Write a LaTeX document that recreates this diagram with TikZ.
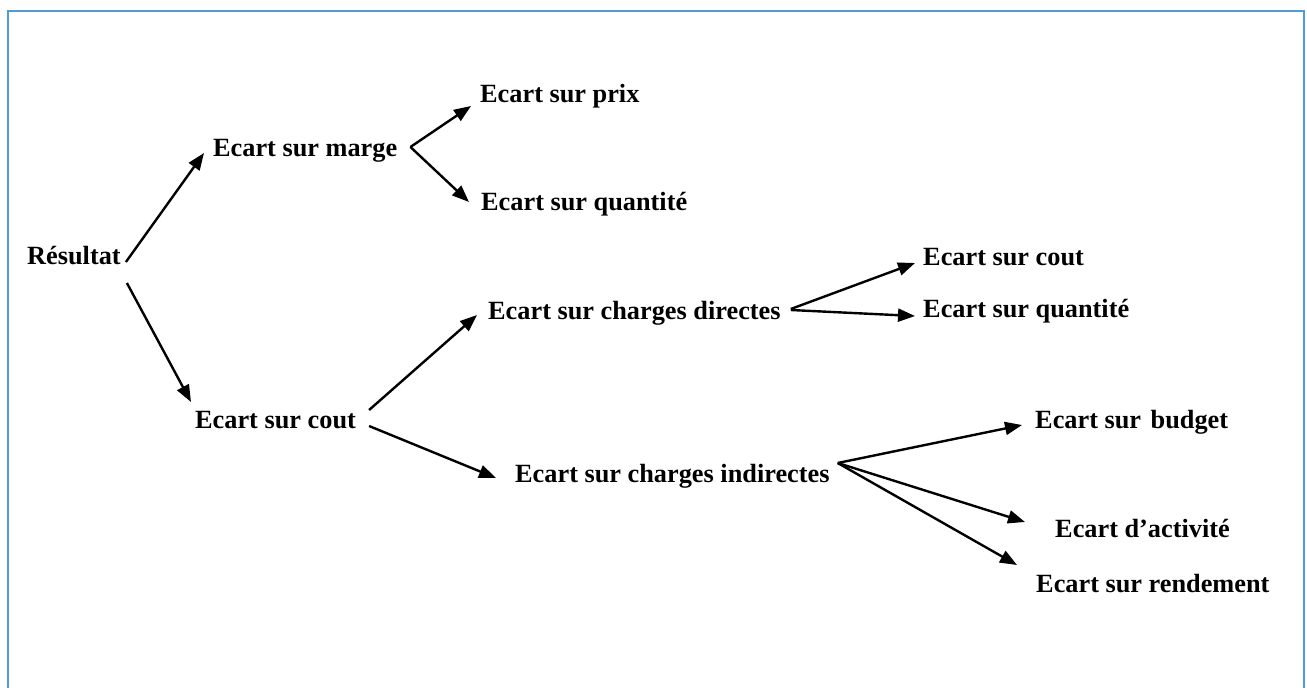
\documentclass[tikz,border=0pt]{standalone}
\usepackage{fontspec}
\setmainfont{Liberation Serif}
\usetikzlibrary{arrows.meta,calc}
\definecolor{framecol}{RGB}{79,155,223}
\begin{document}
\begin{tikzpicture}[x=1pt,y=-1pt,
  lbl/.style={anchor=base west,inner sep=0pt,font=\fontsize{26.3}{30}\selectfont\bfseries},
  arr/.style={line width=2.4pt,-{Triangle[length=17pt,width=13pt]}}]
\useasboundingbox (0,0) rectangle (1307,688);
\draw[framecol,line width=2pt] (7.5,700) -- (7.5,10.5) -- (1304,10.5) -- (1304,700);
% nodes
\node[lbl] (res) at (27,264) {Résultat};
\node[lbl] (marge) at (213,156) {Ecart sur marge};
\node[lbl] (prix) at (480,102) {Ecart sur prix};
\node[lbl] (quantA) at (481,210) {Ecart sur quantité};
\node[lbl] (coutL) at (195,428) {Ecart sur cout};
\node[lbl] (dir) at (488,319) {Ecart sur charges directes};
\node[lbl] (coutR) at (923,265) {Ecart sur cout};
\node[lbl] (quantB) at (923,317) {Ecart sur quantité};
\node[lbl] (ind) at (515,482) {Ecart sur charges indirectes};
\node[lbl] (budget) at (1035,428) {Ecart sur\hspace{3pt} budget};
\node[lbl] (activ) at (1055,537) {Ecart d’activité};
\node[lbl] (rend) at (1036,592) {Ecart sur rendement};
% connectors
\draw[arr] ($(res.base east)+(5,-2)$) -- ($(marge.base west)+(-9,-3)$);
\draw[arr] ($(res.base east)+(6,19)$) -- ($(coutL.base west)+(-4,-26)$);
\draw[arr] ($(marge.base east)+(13,-9)$) -- ($(prix.base west)+(-9,4)$);
\draw[arr] ($(marge.base east)+(13,-9)$) -- ($(quantA.base west)+(-12,-8)$);
\draw[arr] ($(coutL.base east)+(13,-18)$) -- ($(dir.base west)+(-11,-4)$);
\draw[arr] ($(coutL.base east)+(13,-2)$) -- ($(ind.base west)+(-19,-4)$);
\draw[arr] ($(dir.base east)+(10,-10)$) -- ($(coutR.base west)+(-8,-2)$);
\draw[arr] ($(dir.base east)+(10,-9)$) -- ($(quantB.base west)+(-8,-1)$);
\draw[arr] ($(ind.base east)+(8,-19)$) -- ($(budget.base west)+(-13,-3)$);
\draw[arr] ($(ind.base east)+(8,-19)$) -- ($(activ.base west)+(-30,-15)$);
\draw[arr] ($(ind.base east)+(8,-19)$) -- ($(rend.base west)+(-19,-27)$);
\end{tikzpicture}
\end{document}
